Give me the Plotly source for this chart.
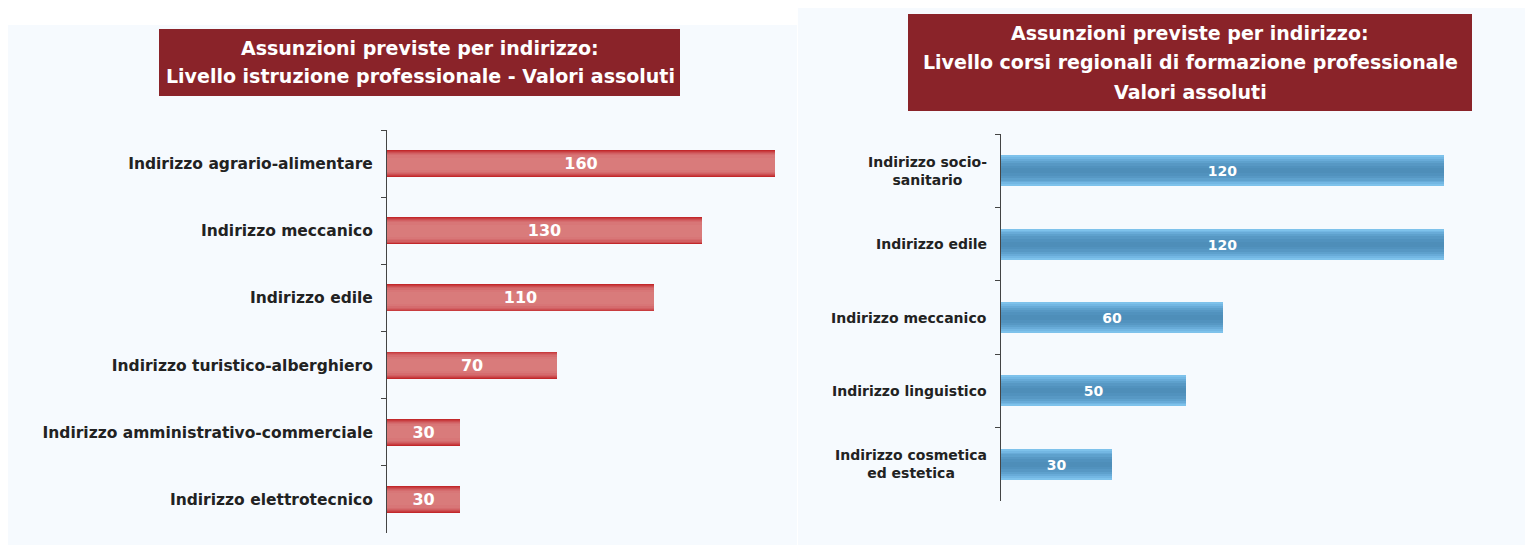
import plotly.graph_objects as go

# the page body adds an 8px margin, so the figure is drawn 8px smaller and shifted
OFF = 8
W, H = 1533 - OFF, 545 - OFF

# left chart: istruzione professionale
left_cats = ["Indirizzo agrario-alimentare", "Indirizzo meccanico", "Indirizzo edile",
             "Indirizzo turistico-alberghiero", "Indirizzo amministrativo-commerciale",
             "Indirizzo elettrotecnico"]
left_vals = [160, 130, 110, 70, 30, 30]

# right chart: corsi regionali di formazione professionale
right_cats = ["Indirizzo socio-<br>sanitario", "Indirizzo edile", "Indirizzo meccanico",
              "Indirizzo linguistico", "Indirizzo cosmetica<br>ed estetica"]
right_vals = [120, 120, 60, 50, 30]

left_title = ["Assunzioni previste per indirizzo:",
              "Livello istruzione professionale - Valori assoluti"]
right_title = ["Assunzioni previste per indirizzo:",
               "Livello corsi regionali di formazione professionale",
               "Valori assoluti"]

FONT = "DejaVu Sans, Verdana, sans-serif"
PANEL = "#F6FAFE"
TITLE_BG = "#8A2329"

# stacked layers fake the shaded (gradient) look of the bars
red_layers = [(0.40, "#C2282B"), (0.375, "#C83C3F"), (0.35, "#CD4F52"), (0.32, "#D26063"),
              (0.29, "#D56C6E"), (0.25, "#D87677"), (0.18, "#D97B7B")]
blue_layers = [(0.42, "#7EC2EB"), (0.37, "#73B7E3"), (0.32, "#68ABD8"), (0.27, "#5EA1CD"),
               (0.21, "#5798C4"), (0.14, "#5192BE"), (0.07, "#4E8EB9")]

fig = go.Figure()

def add_bars(cats, vals, layers, xa, ya, tsize):
    for w, col in layers:
        fig.add_trace(go.Bar(y=cats, x=vals, orientation="h", width=w,
                             marker=dict(color=col, line=dict(width=0)),
                             xaxis=xa, yaxis=ya, hoverinfo="skip", showlegend=False))
    # transparent top layer only carries the value labels
    fig.add_trace(go.Bar(y=cats, x=vals, orientation="h", width=layers[0][0],
                         marker=dict(color="rgba(0,0,0,0)", line=dict(width=0)),
                         text=[str(v) for v in vals], textposition="inside",
                         insidetextanchor="middle", constraintext="none",
                         textfont=dict(family=FONT, size=tsize, color="white", weight="bold"),
                         xaxis=xa, yaxis=ya, showlegend=False))

add_bars(left_cats, left_vals, red_layers, "x", "y", 16)
add_bars(right_cats, right_vals, blue_layers, "x2", "y2", 14)

def px(v):
    return (v - OFF) / W

def py(v):
    return 1 - (v - OFF) / H

shapes = [
    dict(type="rect", xref="paper", yref="paper", x0=0, x1=px(797), y0=0, y1=py(25),
         fillcolor=PANEL, line=dict(width=0), layer="below"),
    dict(type="rect", xref="paper", yref="paper", x0=px(798), x1=1, y0=0, y1=1,
         fillcolor=PANEL, line=dict(width=0), layer="below"),
    dict(type="rect", xref="paper", yref="paper", x0=px(159), x1=px(680), y0=py(96), y1=py(29),
         fillcolor=TITLE_BG, line=dict(width=0), layer="below"),
    dict(type="rect", xref="paper", yref="paper", x0=px(908), x1=px(1472), y0=py(111), y1=py(14),
         fillcolor=TITLE_BG, line=dict(width=0), layer="below"),
]

annotations = []
for line, yy in zip(left_title, [48, 76]):
    annotations.append(dict(text=line, xref="paper", yref="paper", x=px(420), y=py(yy),
                            showarrow=False, xanchor="center", yanchor="middle",
                            font=dict(family=FONT, size=19, color="white", weight="bold")))
for line, yy in zip(right_title, [33, 62, 92]):
    annotations.append(dict(text=line, xref="paper", yref="paper", x=px(1190), y=py(yy),
                            showarrow=False, xanchor="center", yanchor="middle",
                            font=dict(family=FONT, size=19, color="white", weight="bold")))
# right category labels as centred annotations
for c in right_cats:
    annotations.append(dict(text=c, xref="paper", yref="y2", x=px(989), y=c, showarrow=False,
                            xanchor="right", yanchor="middle", align="center",
                            font=dict(family=FONT, size=14, color="#222222", weight="bold")))

fig.update_layout(
    width=W, height=H, margin=dict(l=0, r=0, t=0, b=0),
    paper_bgcolor="white", plot_bgcolor="rgba(0,0,0,0)",
    barmode="overlay", bargap=0, showlegend=False,
    shapes=shapes, annotations=annotations,
    xaxis=dict(domain=[px(387), px(797)], range=[0, 169], visible=False),
    yaxis=dict(domain=[py(533), py(130)], anchor="x", type="category", autorange="reversed",
               showline=True, linecolor="#444444", linewidth=1, ticks="outside", ticklen=5,
               tickcolor="#444444", tickson="boundaries", showgrid=False, zeroline=False,
               ticklabelstandoff=10,
               tickfont=dict(family=FONT, size=15.5, color="#222222", weight="bold")),
    xaxis2=dict(domain=[px(1001), 1], range=[0, 144], visible=False, anchor="y2"),
    yaxis2=dict(domain=[py(501), py(134)], anchor="x2", type="category", autorange="reversed",
                showline=True, linecolor="#444444", linewidth=1, ticks="outside", ticklen=5,
                tickcolor="#444444", tickson="boundaries", showgrid=False, zeroline=False,
                showticklabels=False),
)

fig.write_html("out.html")
